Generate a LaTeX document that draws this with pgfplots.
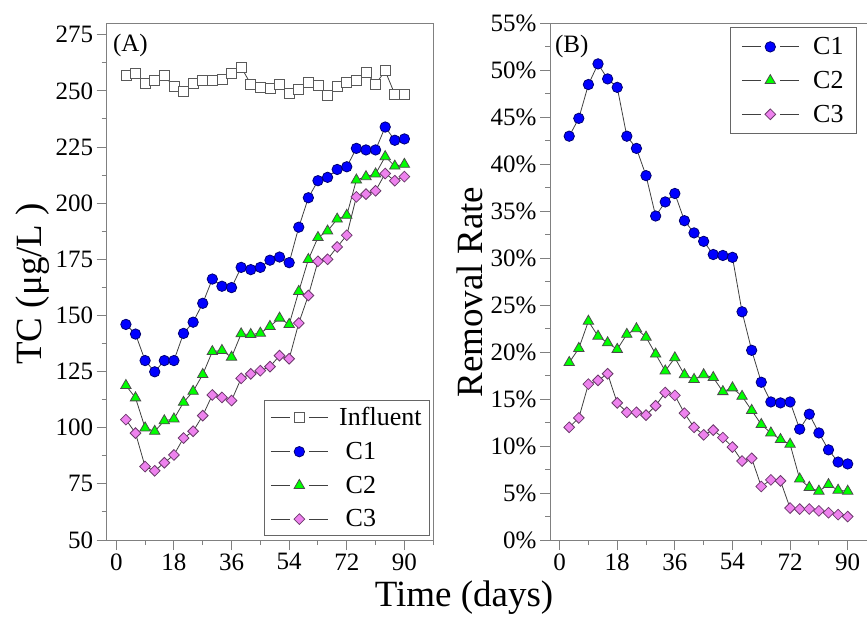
\documentclass[border=0pt]{standalone}
\usepackage{pgfplots}
\pgfplotsset{compat=1.18}
\usepackage{pgfplotstable}
\usepackage{fontspec}
\setmainfont{Liberation Serif}
\setsansfont{Liberation Serif}

\definecolor{orchid}{RGB}{238,130,238}
\newcommand\tickfont{\rmfamily\fontsize{25}{30}\selectfont}
\newcommand\legfont{\rmfamily\fontsize{26}{30}\selectfont}
\newcommand\labfont{\rmfamily\fontsize{37}{40}\selectfont}

% panel A: total carbon, ug/L
\pgfplotstableread{
day inf c1 c2 c3
3  257.0 146.0 118.8 103.6
6  257.9 141.7 113.3  97.6
9  253.4 129.9  99.9  82.7
12 254.5 124.9  98.4  80.8
15 256.7 129.9 103.1  84.4
18 251.9 129.9 103.9  87.9
21 249.9 142.0 111.3  95.4
24 253.4 147.0 116.2  98.4
27 254.6 155.4 123.7 105.4
30 254.6 166.2 133.9 114.6
33 255.2 163.0 134.4 113.5
36 257.9 162.4 131.4 112.1
39 260.6 171.4 141.8 122.0
42 253.0 170.4 141.5 124.0
45 251.6 171.4 142.1 125.4
48 251.2 174.6 145.1 127.2
51 253.0 176.0 148.8 132.1
54 248.8 173.5 146.0 130.7
57 250.7 189.3 160.7 146.6
60 253.9 202.4 174.9 158.9
63 252.5 210.0 184.7 174.1
66 248.2 211.5 187.6 175.0
69 252.2 215.0 192.9 180.5
72 253.7 216.2 194.6 185.7
75 254.6 224.4 210.3 202.8
78 258.3 223.7 211.8 204.0
81 253.0 223.7 213.0 205.5
84 258.9 233.9 220.7 213.2
87 248.5 228.0 216.5 210.0
90 248.5 228.6 217.3 211.8
}\tcdata

% panel B: removal rate, %
\pgfplotstableread{
day c1 c2 c3
3  43.0 18.9 12.0
6  44.9 20.4 13.0
9  48.5 23.3 16.6
12 50.7 21.7 17.0
15 49.1 21.0 17.7
18 48.2 20.3 14.6
21 43.0 21.9 13.6
24 41.7 22.5 13.6
27 38.8 21.6 13.3
30 34.5 19.8 14.3
33 36.0 18.0 15.7
36 36.9 19.4 15.4
39 34.0 17.6 13.5
42 32.7 17.1 12.0
45 31.8 17.6 11.2
48 30.4 17.3 11.7
51 30.3 15.8 10.9
54 30.1 16.2  9.9
57 24.3 15.3  8.4
60 20.2 13.8  8.7
63 16.8 12.3  5.7
66 14.7 11.4  6.4
69 14.6 10.7  6.3
72 14.7 10.2  3.4
75 11.8  6.5  3.3
78 13.4  5.6  3.3
81 11.4  5.2  3.1
84  9.6  5.9  2.9
87  8.3  5.3  2.7
90  8.1  5.2  2.5
}\rrdata

\begin{document}
\begin{tikzpicture}
\useasboundingbox (0pt,0pt) rectangle (867pt,619pt);
\pgfplotsset{
  panel/.style={
    scale only axis, width=326.5pt, height=516.5pt, anchor=south west,
    xmin=-3, xmax=99, xtick={0,18,...,90}, minor xtick={9,27,45,63,81,99},
    tick pos=left, tick align=outside,
    major tick length=10pt, minor tick length=5pt,
    axis line style={black!50, line width=1pt},
    tick style={black!50, line width=1pt},
    ticklabel style={font=\tickfont},
    /pgf/number format/assume math mode=true,
    every axis y label/.style={rotate=90, anchor=center, font=\labfont},
    legend cell align=left,
    legend style={draw=black!60, line width=0.8pt, font=\legfont,
      row sep=11pt, inner xsep=6pt, inner ysep=5pt,
      /tikz/every odd column/.append style={column sep=9pt}},
    legend image code/.code={
      \draw[##1,mark=none] (0pt,0pt) -- (19pt,0pt) (38pt,0pt) -- (57pt,0pt);
      \draw[##1] plot coordinates {(28.5pt,0pt)};
    },
  },
  inf/.style={black!75, line width=0.8pt, mark=square*, mark size=5pt,
    mark options={solid, fill=white, draw=black!65}},
  c1/.style={black!75, line width=0.8pt, mark=*, mark size=5.2pt,
    mark options={solid, fill=blue, draw=blue!45!black}},
  c2/.style={black!75, line width=0.8pt, mark=triangle*, mark size=6pt,
    mark options={solid, fill=green, draw=black!70}},
  c3/.style={black!75, line width=0.8pt, mark=square*, mark size=3.8pt,
    mark options={solid, rotate=45, fill=orchid, draw=orchid!45!black}},
}

\begin{axis}[panel, at={(106.7pt,79pt)},
  ymin=50, ymax=280, ytick={50,75,...,275}, minor ytick={62.5,87.5,...,262.5},
  ylabel={TC (μg/L )},
  every axis y label/.append style={at={(rel axis cs:-0.226,0.496)}},
  legend style={at={(rel axis cs:0.99,0.008)}, anchor=south east},
]
\addplot[inf] table[x=day, y=inf] {\tcdata};
\addplot[c1] table[x=day, y=c1] {\tcdata};
\addplot[c2] table[x=day, y=c2] {\tcdata};
\addplot[c3] table[x=day, y=c3] {\tcdata};
\legend{Influent,\ C1,\ C2,\ C3}
\node[anchor=north west, inner sep=0pt, font=\tickfont]
  at (rel axis cs:0.019,0.979) {(A)};
\end{axis}

\begin{axis}[panel, at={(550pt,79pt)},
  ymin=0, ymax=55, ytick={0,5,...,55}, minor ytick={2.5,7.5,...,52.5},
  yticklabels={0\%,5\%,10\%,15\%,20\%,25\%,30\%,35\%,40\%,45\%,50\%,55\%},
  ylabel={Removal Rate},
  every axis y label/.append style={at={(rel axis cs:-0.245,0.48)}},
  legend style={at={(rel axis cs:0.94,0.993)}, anchor=north east,
    inner xsep=11pt, inner ysep=8pt},
]
\addplot[c1] table[x=day, y=c1] {\rrdata};
\addplot[c2] table[x=day, y=c2] {\rrdata};
\addplot[c3] table[x=day, y=c3] {\rrdata};
\legend{\hspace{3pt}C1,\hspace{3pt}C2,\hspace{3pt}C3}
\node[anchor=north west, inner sep=0pt, font=\tickfont]
  at (rel axis cs:0.015,0.978) {(B)};
\end{axis}

\node[font=\labfont] at (464pt,21pt) {Time (days)};
\end{tikzpicture}
\end{document}
